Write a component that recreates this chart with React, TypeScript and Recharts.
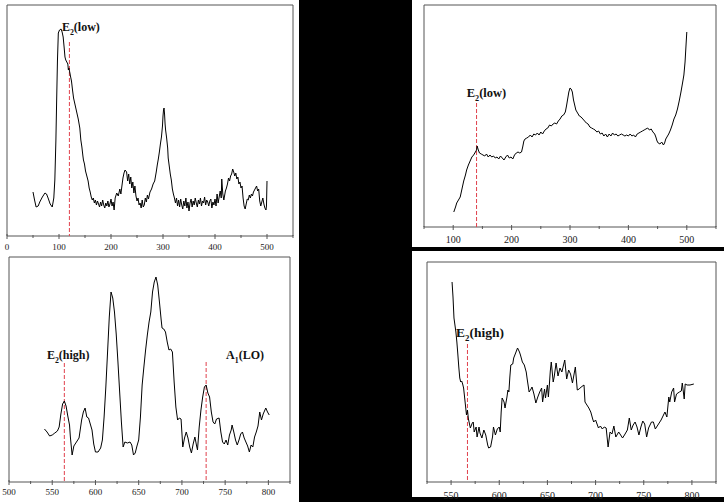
import React from "react";
import { LineChart, Line, XAxis, YAxis, ReferenceArea, ReferenceLine, ReferenceDot } from "recharts";

type Pt = [number, number];

const FONT = "'Liberation Serif', 'Times New Roman', serif";
const AXIS = "#555";
const RED = "#e0404c";

// ---------- Top-left panel (E2 low region, sample A) ----------
const TL_X_MAJOR = [0, 100, 200, 300, 400, 500];
const TL_X_MINOR = [50, 150, 250, 350, 450, 550];
const TL_SPECTRUM: Pt[] = [
  [50,44],[53,36],[56,29],[60,30],[63,34],[68,39],[73,43],[76,42],[79,38],[83,32],[87,29],[90,38],[92,56],[94,95],[95.5,136],[97,175],[98.7,203],[101,206],[104,207],[106,204],[108,199],[110,188],[111.5,179],[113,176],[115,174],[117,172],[118,166],[119,168],[121,163],[122,160],[124,155],[126,146],[128,138],[131,131],[134,124],[137,117],[140,108],[142,96],[144,89],[146,80],[147,76],[149,72],[151,65],[154,59],[156,55],[158,48],[160,44],[162,39],[164,36],[166,38],[168,33],[170,36],[172,31],[174,35],[176,32],[178,29],[180,34],[182,30],[184,36],[186,31],[188,28],[190,33],[192,30],[194,35],[196,29],[198,32],[200,37],[202,30],[204,34],[206,26],[208,38],[211,43],[214,40],[217,47],[219,42],[221,50],[223,58],[225,63],[227,66],[230,64],[232,55],[234,62],[236,52],[238,59],[240,48],[242,54],[244,43],[246,50],[248,40],[250,35],[252,38],[254,31],[256,33],[258,28],[260,36],[262,29],[264,31],[266,38],[268,34],[270,41],[272,37],[275,44],[278,47],[281,52],[284,55],[287,64],[289,71],[291,77],[293,84],[295,92],[297,99],[299,110],[300,120],[301,126],[302,128],[303,122],[304,112],[305,106],[307,98],[309,88],[310,78],[312,70],[314,62],[316,56],[318,47],[320,42],[322,38],[324,33],[326,38],[328,30],[330,36],[332,29],[334,37],[336,31],[338,27],[340,35],[342,30],[344,38],[346,28],[348,34],[350,25],[352,33],[354,37],[356,29],[358,35],[360,31],[362,38],[364,33],[366,29],[368,36],[370,32],[372,38],[374,30],[376,35],[378,33],[380,39],[382,31],[384,36],[386,34],[388,30],[390,35],[392,37],[394,28],[396,34],[398,31],[400,37],[402,30],[404,42],[406,33],[408,39],[410,45],[412,38],[413,57],[415,42],[417,36],[420,45],[422,48],[424,52],[426,58],[428,55],[430,60],[432,62],[434,67],[436,64],[438,60],[440,63],[442,57],[444,59],[446,52],[448,54],[450,48],[452,50],[454,38],[456,30],[458,27],[460,32],[462,37],[464,36],[466,41],[468,38],[470,42],[472,40],[474,44],[476,46],[478,48],[480,50],[482,45],[484,47],[486,35],[488,30],[490,34],[492,38],[494,32],[496,28],[498,26],[499,30],[500,55]
];

// ---------- Top-right panel ----------
const TR_X_MAJOR = [100, 200, 300, 400, 500];
const TR_X_MINOR = [50, 150, 250, 350, 450, 550];
const TR_Y_MAJOR = [0, 44.4, 88.8, 133.2, 177.6, 222];
const TR_Y_MINOR = [22.2, 66.6, 111, 155.4, 199.8];
const TR_SPECTRUM: Pt[] = [
  [101,15],[104,20],[106,24],[109,27],[112,30],[115,38],[118,46],[121,52],[123,57],[126,62],[129,66],[132,70],[135,72],[138,75],[140,77],[141,81],[143,77],[145,74],[148,73],[151,72],[154,71],[157,73],[160,70],[163,72],[166,70],[169,71],[172,69],[175,70],[178,68],[181,71],[184,69],[187,67],[190,70],[193,72],[196,69],[199,70],[202,68],[205,72],[208,74],[211,75],[214,74],[217,75],[219,80],[221,86],[223,88],[226,89],[229,90],[232,92],[235,90],[238,93],[241,92],[244,94],[247,92],[250,95],[253,93],[256,96],[259,98],[262,99],[265,102],[268,101],[271,103],[274,104],[277,103],[280,106],[283,108],[286,111],[289,112],[292,115],[294,121],[296,128],[298,135],[300,139],[302,138],[304,135],[306,127],[308,122],[310,117],[313,114],[316,111],[319,110],[322,108],[325,106],[328,104],[331,103],[334,100],[337,99],[340,98],[343,97],[346,95],[349,96],[352,93],[355,94],[358,91],[361,93],[364,90],[367,93],[370,91],[373,94],[376,92],[379,93],[382,91],[385,92],[388,93],[391,92],[394,91],[397,92],[400,91],[403,93],[406,91],[409,92],[412,90],[415,93],[418,94],[421,95],[424,96],[427,97],[430,98],[433,99],[436,97],[439,98],[442,95],[445,93],[447,90],[449,86],[451,84],[454,83],[457,85],[460,82],[462,84],[464,88],[466,90],[469,93],[472,97],[475,102],[478,108],[481,112],[484,118],[487,126],[490,135],[493,145],[495,152],[497,165],[498,175],[499,185],[500,195]
];

// ---------- Bottom-left panel ----------
const BL_X_MAJOR = [500, 550, 600, 650, 700, 750, 800];
const BL_X_MINOR = [525, 575, 625, 675, 725, 775, 825];
const BL_SPECTRUM: Pt[] = [
  [541,53],[544,50],[547,46],[550,47],[553,49],[556,51],[558,55],[560,68],[562,78],[564,81],[566,76],[568,66],[570,57],[571,45],[573,27],[575,36],[578,40],[581,44],[584,62],[586,70],[588,74],[590,65],[592,64],[594,58],[596,52],[598,38],[600,30],[603,30],[606,34],[608,42],[610,65],[612,95],[614,130],[616,165],[618,190],[620,184],[622,170],[624,148],[626,120],[628,90],[630,60],[632,35],[634,40],[637,39],[640,40],[642,37],[644,27],[646,29],[648,36],[650,42],[652,65],[654,97],[656,115],[658,132],[660,147],[662,160],[664,170],[666,190],[668,200],[670,205],[672,197],[674,180],[676,162],[677,154],[679,153],[681,150],[683,140],[685,132],[687,133],[689,130],[691,100],[693,75],[695,62],[697,64],[699,63],[701,35],[703,44],[705,50],[707,44],[709,35],[711,29],[713,38],[715,45],[717,36],[718,32],[720,55],[722,72],[724,85],[726,95],[728,97],[730,89],[732,85],[734,70],[736,60],[738,58],[740,63],[743,64],[745,50],[747,40],[749,38],[751,42],[753,37],[755,47],[757,52],[758,57],[760,50],[762,42],[764,37],[766,42],[768,48],[770,50],[772,44],[774,40],[776,36],[778,30],[780,37],[782,35],[784,45],[786,50],[788,56],[790,70],[792,62],[794,68],[797,74],[799,70],[801,67]
];

// ---------- Bottom-right panel ----------
const BR_X_MAJOR = [550, 600, 650, 700, 750, 800];
const BR_X_MINOR = [525, 575, 625, 675, 725, 775, 825];
const BR_Y_MAJOR = [20, 60, 100, 140, 180, 220];
const BR_Y_MINOR = [0, 40, 80, 120, 160, 200];
const BR_SPECTRUM: Pt[] = [
  [551,200],[552,185],[553,164],[555,150],[556,140],[557,128],[558,115],[559,104],[560,100],[561,101],[562,98],[563,94],[564,85],[566,67],[567,72],[568,63],[570,54],[572,59],[573,60],[574,50],[576,55],[577,45],[579,55],[580,49],[582,44],[584,52],[586,47],[588,37],[589,34],[591,35],[593,45],[594,55],[596,47],[598,53],[600,55],[601,50],[602,70],[603,84],[605,80],[606,74],[608,85],[609,92],[610,90],[611,105],[612,117],[614,118],[615,124],[617,129],[619,134],[621,130],[622,127],[624,120],[626,117],[628,110],[629,103],[631,90],[633,93],[634,95],[636,88],[638,79],[640,85],[642,90],[644,94],[645,80],[647,93],[648,84],[650,97],[651,85],[652,97],[653,111],[654,120],[656,100],[657,105],[659,119],[661,106],[663,114],[665,110],[668,122],[670,103],[672,112],[674,108],[676,99],[679,115],[681,92],[683,93],[685,95],[688,97],[689,80],[691,77],[693,74],[695,70],[697,63],[698,60],[700,62],[703,54],[705,56],[707,53],[709,55],[711,54],[713,35],[715,50],[717,48],[719,56],[721,45],[724,50],[726,47],[728,44],[730,47],[733,52],[735,64],[737,52],[739,57],[741,60],[743,55],[745,47],[747,55],[749,61],[751,58],[753,45],[755,54],[758,60],[760,60],[762,53],[764,56],[766,59],[768,62],[770,66],[772,70],[774,65],[776,85],[777,80],[779,90],[781,94],[782,80],[784,88],[787,90],[789,91],[790,99],[792,83],[793,98],[795,97],[798,97],[802,98]
];

type Marker = { x: number; top: number };
type Note = { x: number; y: number; main: string; sub: string; rest: string };

type PanelCfg = {
  L: number; T: number; R: number; B: number;
  xDomain: [number, number];
  yDomain: [number, number];
  xMajor: number[]; xMinor: number[];
  yMajor?: number[]; yMinor?: number[];
  points: Pt[];
  markers: Marker[];
  notes: Note[];
  tickFont: number;
  tickGap: number;
  noteFont: number;
};

const makeXTick = (major: number[], fontSize: number, gap: number) => (props: any) => {
  const { x, y, payload } = props;
  const isMajor = major.includes(payload.value);
  return (
    <g>
      <line x1={x} y1={y - (isMajor ? 2 : 1)} x2={x} y2={y + (isMajor ? 3 : 2)} stroke={AXIS} strokeWidth={1} />
      {isMajor && (
        <text x={x} y={y + gap} dy="0.35em" textAnchor="middle" fontSize={fontSize} fontFamily={FONT} fill="#222" stroke="none">
          {payload.value}
        </text>
      )}
    </g>
  );
};

const makeYTick = (major: number[]) => (props: any) => {
  const { x, y, payload } = props;
  const isMajor = major.includes(payload.value);
  return <line x1={x} y1={y} x2={x - (isMajor ? 4 : 2)} y2={y} stroke={AXIS} strokeWidth={1} />;
};

const makeNote = (n: Note, size: number) => (props: any) => {
  const cx = props.cx;
  const cy = props.cy;
  return (
    <text x={cx} y={cy + size * 0.35} textAnchor="middle" fontSize={size} fontWeight="bold" fontFamily={FONT} fill="#111">
      <tspan>{n.main}</tspan>
      <tspan fontSize={size * 0.65} dy={size * 0.28}>{n.sub}</tspan>
      <tspan dy={-size * 0.28}>{n.rest}</tspan>
    </text>
  );
};

function Panel(p: PanelCfg) {
  const mL = 14, mR = 8, mT = 6, mB = 26;
  const w = p.R - p.L + mL + mR;
  const h = p.B - p.T + mT + mB;
  const data = p.points.map(([x, y]) => ({ x, y }));
  const xTicks = [...p.xMajor, ...p.xMinor].sort((a, b) => a - b);
  const hasY = !!p.yMajor;
  const yTicks = hasY ? [...(p.yMajor || []), ...(p.yMinor || [])].sort((a, b) => a - b) : undefined;
  return (
    <div style={{ position: "absolute", left: p.L - mL, top: p.T - mT, width: w, height: h }}>
      <LineChart width={w} height={h} data={data} margin={{ top: mT, right: mR, left: mL, bottom: 0 }}>
        <XAxis
          dataKey="x"
          type="number"
          domain={p.xDomain}
          allowDataOverflow
          ticks={xTicks}
          interval={0}
          tickSize={0}
          tickMargin={0}
          axisLine={false}
          tickLine={false}
          height={mB}
          tick={makeXTick(p.xMajor, p.tickFont, p.tickGap)}
        />
        <YAxis
          type="number"
          domain={p.yDomain}
          allowDataOverflow
          width={0}
          hide={!hasY}
          ticks={yTicks}
          interval={0}
          tickSize={0}
          tickMargin={0}
          axisLine={false}
          tickLine={false}
          tick={makeYTick(p.yMajor || [])}
        />
        <ReferenceArea
          x1={p.xDomain[0]}
          x2={p.xDomain[1]}
          y1={p.yDomain[0]}
          y2={p.yDomain[1]}
          fill="none"
          fillOpacity={0}
          stroke={AXIS}
          strokeWidth={1}
          strokeOpacity={1}
        />
        {p.markers.map((m, i) => (
          <ReferenceLine
            key={"m" + i}
            segment={[{ x: m.x, y: m.top }, { x: m.x, y: p.yDomain[0] }]}
            stroke={RED}
            strokeWidth={1}
            strokeDasharray="4 2"
          />
        ))}
        <Line
          dataKey="y"
          type="linear"
          stroke="#000"
          strokeWidth={1}
          dot={false}
          isAnimationActive={false}
        />
        {p.notes.map((n, i) => (
          <ReferenceDot
            key={"n" + i}
            x={n.x}
            y={n.y}
            r={0}
            fill="none"
            stroke="none"
            shape={makeNote(n, p.noteFont)}
          />
        ))}
      </LineChart>
    </div>
  );
}

export default function App() {
  return (
    <div style={{ position: "fixed", left: 0, top: 0, width: 724, height: 502, background: "#fff", overflow: "hidden" }}>
      <div style={{ position: "absolute", left: 299, top: 0, width: 113, height: 502, background: "#000" }} />
      <div style={{ position: "absolute", left: 412, top: 247, width: 312, height: 4, background: "#000" }} />
      <div style={{ position: "absolute", left: 412, top: 497, width: 312, height: 5, background: "#000" }} />

      <Panel
        L={7} T={5} R={293} B={236}
        xDomain={[0, 550]} yDomain={[0, 231]}
        xMajor={TL_X_MAJOR} xMinor={TL_X_MINOR}
        points={TL_SPECTRUM}
        markers={[{ x: 120, top: 194 }]}
        notes={[{ x: 142, y: 209, main: "E", sub: "2", rest: "(low)" }]}
        tickFont={9} tickGap={10.5} noteFont={12}
      />
      <Panel
        L={424} T={5} R={716} B={227}
        xDomain={[50, 550]} yDomain={[0, 222]}
        xMajor={TR_X_MAJOR} xMinor={TR_X_MINOR}
        yMajor={TR_Y_MAJOR} yMinor={TR_Y_MINOR}
        points={TR_SPECTRUM}
        markers={[{ x: 140, top: 124 }]}
        notes={[{ x: 157, y: 134, main: "E", sub: "2", rest: "(low)" }]}
        tickFont={10} tickGap={12.5} noteFont={12.5}
      />
      <Panel
        L={9} T={257} R={290} B={482}
        xDomain={[500, 825]} yDomain={[0, 225]}
        xMajor={BL_X_MAJOR} xMinor={BL_X_MINOR}
        points={BL_SPECTRUM}
        markers={[{ x: 564, top: 119 }, { x: 728, top: 120 }]}
        notes={[
          { x: 568.5, y: 127, main: "E", sub: "2", rest: "(high)" },
          { x: 773, y: 127, main: "A", sub: "1", rest: "(LO)" },
        ]}
        tickFont={9} tickGap={10} noteFont={12}
      />
      <Panel
        L={427} T={262} R={716} B={482}
        xDomain={[525, 825]} yDomain={[0, 220]}
        xMajor={BR_X_MAJOR} xMinor={BR_X_MINOR}
        yMajor={BR_Y_MAJOR} yMinor={BR_Y_MINOR}
        points={BR_SPECTRUM}
        markers={[{ x: 567, top: 138 }]}
        notes={[{ x: 580, y: 150, main: "E", sub: "2", rest: "(high)" }]}
        tickFont={10} tickGap={13} noteFont={13.5}
      />
    </div>
  );
}
